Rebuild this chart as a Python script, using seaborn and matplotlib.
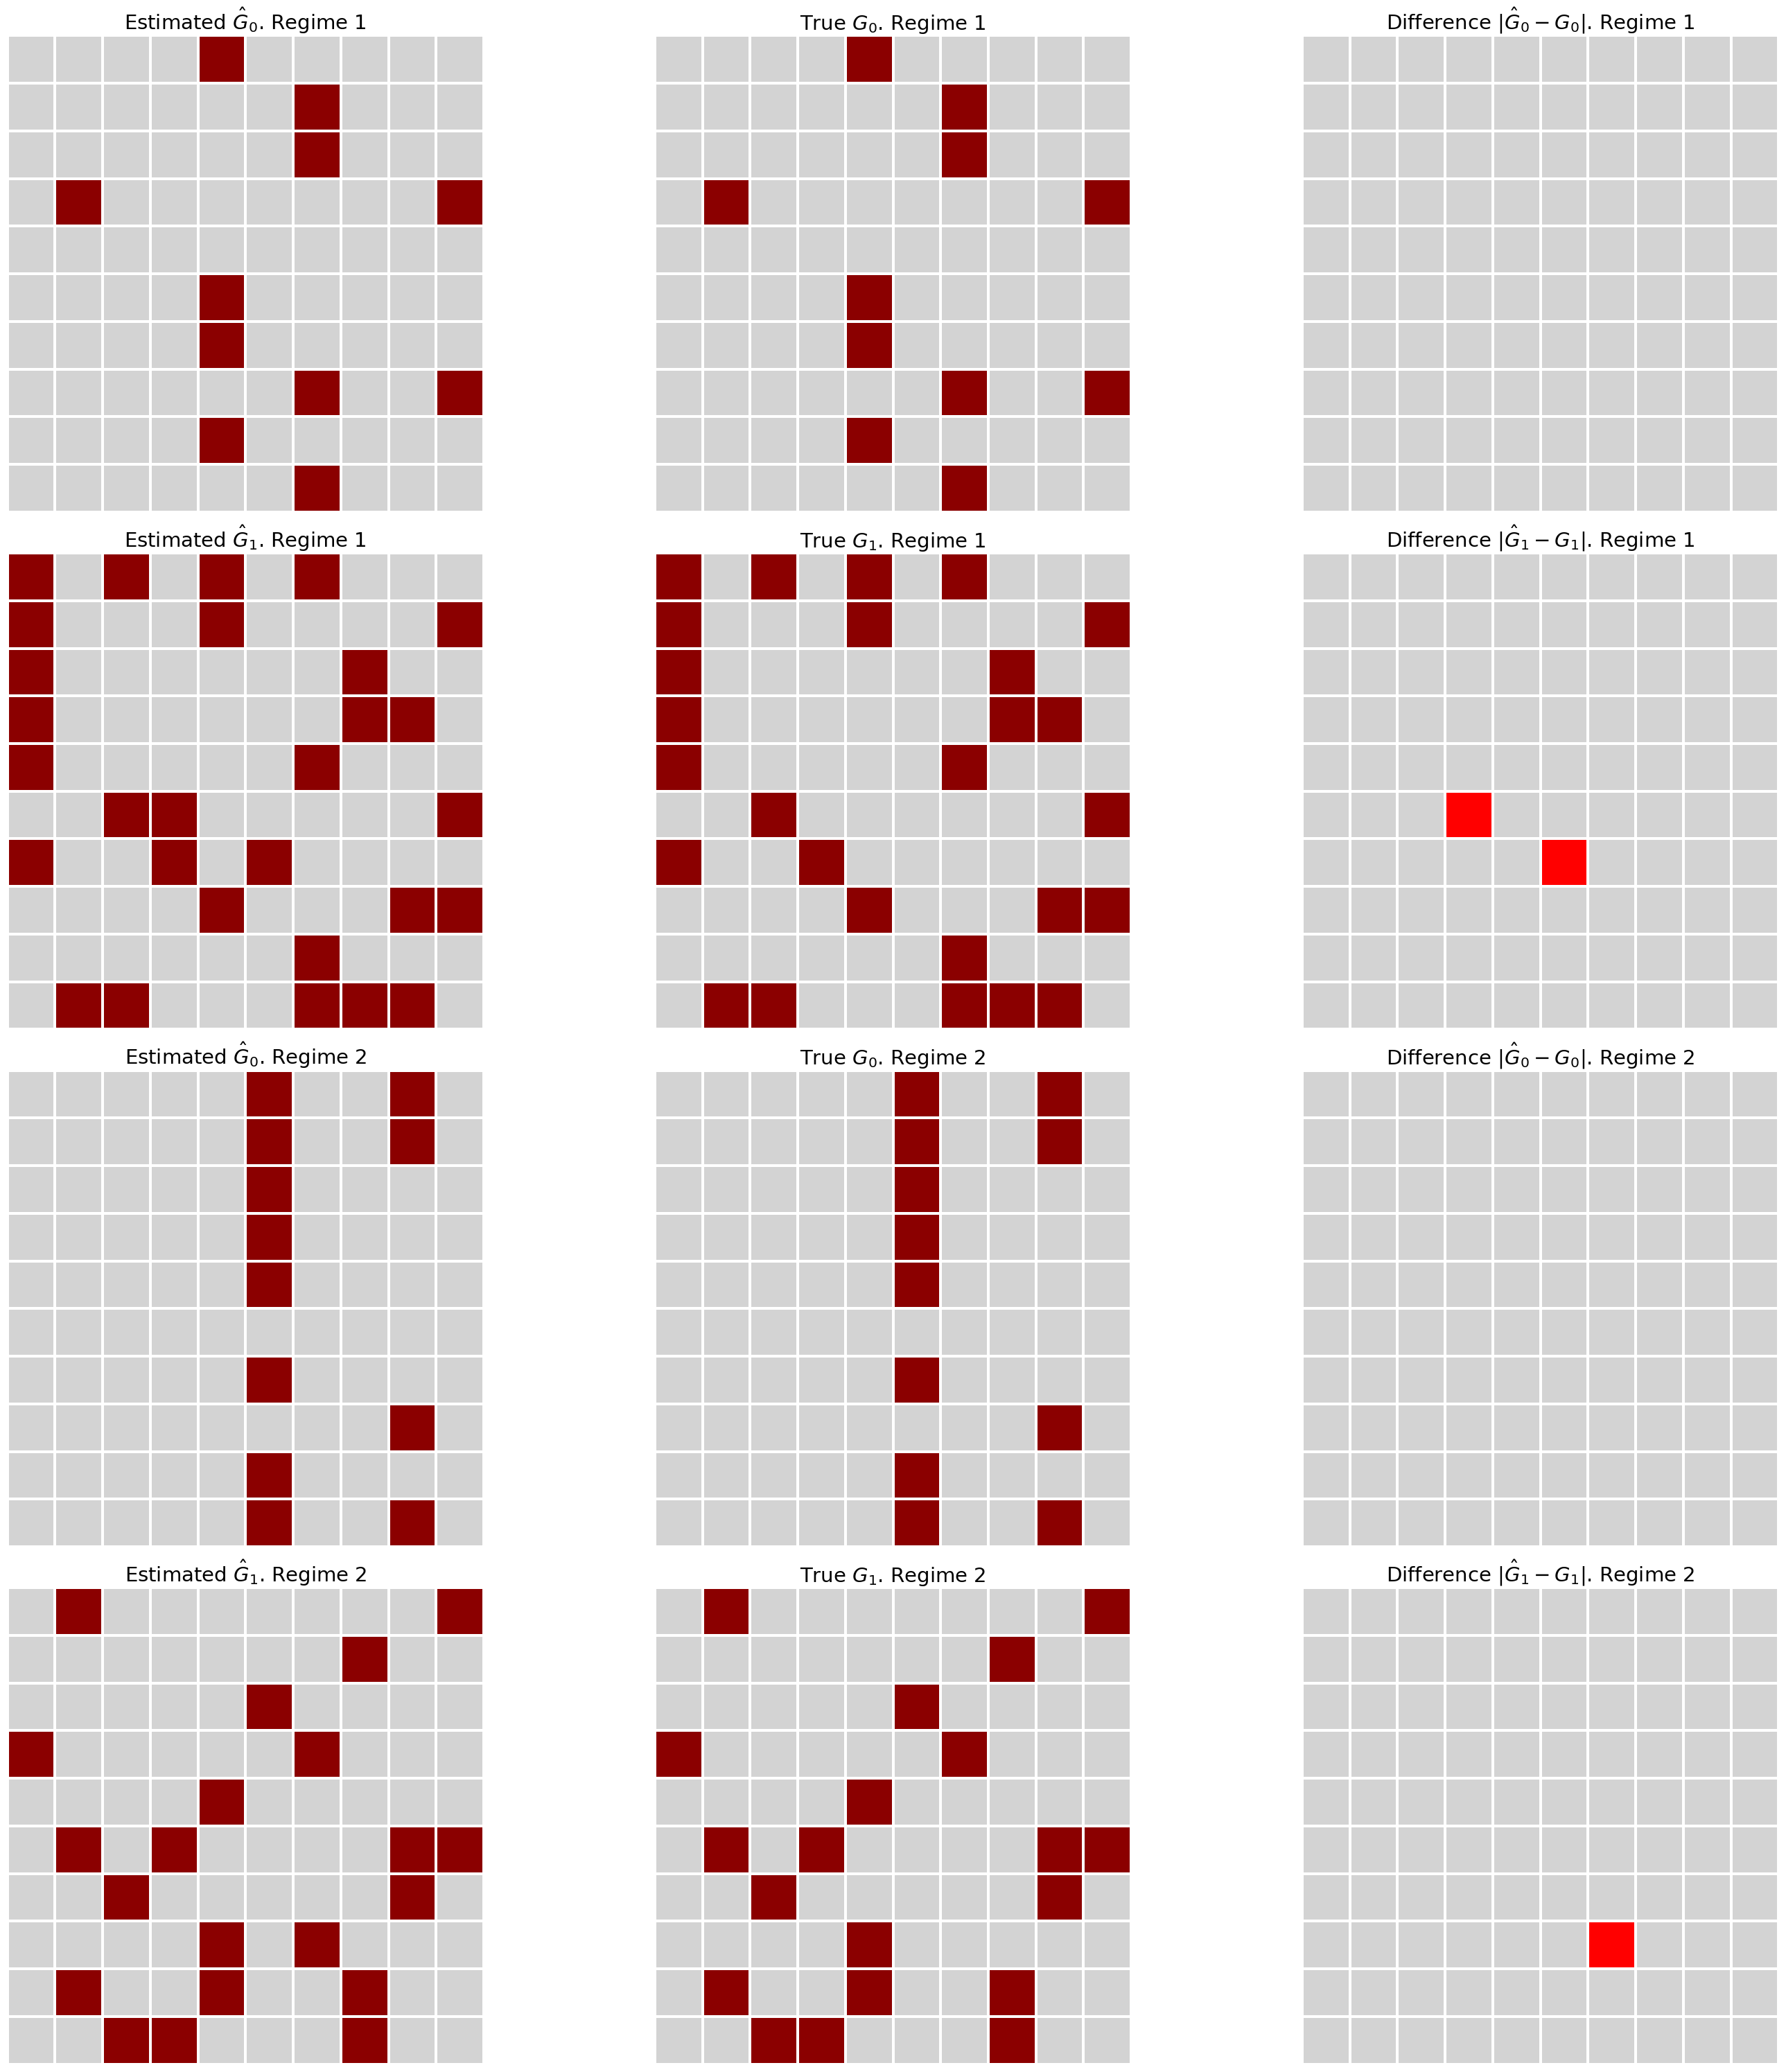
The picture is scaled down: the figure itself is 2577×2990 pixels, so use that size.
import numpy as np
import seaborn as sns
import matplotlib.pyplot as plt
from matplotlib.colors import ListedColormap

n = 10

# nonzero (row, col) entries of each 10x10 adjacency matrix
est_g0_r1 = [(0, 4), (1, 6), (2, 6), (3, 1), (3, 9), (5, 4), (6, 4), (7, 6), (7, 9), (8, 4), (9, 6)]
true_g0_r1 = [(0, 4), (1, 6), (2, 6), (3, 1), (3, 9), (5, 4), (6, 4), (7, 6), (7, 9), (8, 4), (9, 6)]

est_g1_r1 = [(0, 0), (0, 2), (0, 4), (0, 6), (1, 0), (1, 4), (1, 9), (2, 0), (2, 7),
             (3, 0), (3, 7), (3, 8), (4, 0), (4, 6), (5, 2), (5, 3), (5, 9),
             (6, 0), (6, 3), (6, 5), (7, 4), (7, 8), (7, 9), (8, 6),
             (9, 1), (9, 2), (9, 6), (9, 7), (9, 8)]
true_g1_r1 = [(0, 0), (0, 2), (0, 4), (0, 6), (1, 0), (1, 4), (1, 9), (2, 0), (2, 7),
              (3, 0), (3, 7), (3, 8), (4, 0), (4, 6), (5, 2), (5, 9),
              (6, 0), (6, 3), (7, 4), (7, 8), (7, 9), (8, 6),
              (9, 1), (9, 2), (9, 6), (9, 7), (9, 8)]

est_g0_r2 = [(0, 5), (0, 8), (1, 5), (1, 8), (2, 5), (3, 5), (4, 5), (6, 5), (7, 8), (8, 5), (9, 5), (9, 8)]
true_g0_r2 = [(0, 5), (0, 8), (1, 5), (1, 8), (2, 5), (3, 5), (4, 5), (6, 5), (7, 8), (8, 5), (9, 5), (9, 8)]

est_g1_r2 = [(0, 1), (0, 9), (1, 7), (2, 5), (3, 0), (3, 6), (4, 4),
             (5, 1), (5, 3), (5, 8), (5, 9), (6, 2), (6, 8), (7, 4), (7, 6),
             (8, 1), (8, 4), (8, 7), (9, 2), (9, 3), (9, 7)]
true_g1_r2 = [(0, 1), (0, 9), (1, 7), (2, 5), (3, 0), (3, 6), (4, 4),
              (5, 1), (5, 3), (5, 8), (5, 9), (6, 2), (6, 8), (7, 4),
              (8, 1), (8, 4), (8, 7), (9, 2), (9, 3), (9, 7)]

panels = [
    ('0', '1', est_g0_r1, true_g0_r1),
    ('1', '1', est_g1_r1, true_g1_r1),
    ('0', '2', est_g0_r2, true_g0_r2),
    ('1', '2', est_g1_r2, true_g1_r2),
]


def to_matrix(entries):
    m = np.zeros((n, n))
    for r, c in entries:
        m[r, c] = 1
    return m


graph_cmap = ListedColormap(['lightgray', 'darkred'])
diff_cmap = ListedColormap(['lightgray', 'red'])

fig, axes = plt.subplots(4, 3, figsize=(25.77, 29.9), dpi=100)
plt.subplots_adjust(left=0.0037, right=0.9963, top=0.9828, bottom=0.0038,
                    wspace=0.355, hspace=0.086)

for i, (lag, regime, est, true) in enumerate(panels):
    est_m = to_matrix(est)
    true_m = to_matrix(true)
    diff_m = np.abs(est_m - true_m)

    mats = [est_m, true_m, diff_m]
    cmaps = [graph_cmap, graph_cmap, diff_cmap]
    titles = [r'Estimated $\hat{G}_%s$. Regime %s' % (lag, regime),
              r'True $G_%s$. Regime %s' % (lag, regime),
              r'Difference $|\hat{G}_%s - G_%s|$. Regime %s' % (lag, lag, regime)]

    for j in range(3):
        ax = axes[i, j]
        sns.heatmap(mats[j], ax=ax, cmap=cmaps[j], vmin=0, vmax=1, cbar=False,
                    linewidths=1.5, linecolor='white', square=True,
                    xticklabels=False, yticklabels=False)
        ax.set_title(titles[j], fontsize=21)

plt.savefig('out.png')
plt.close()
